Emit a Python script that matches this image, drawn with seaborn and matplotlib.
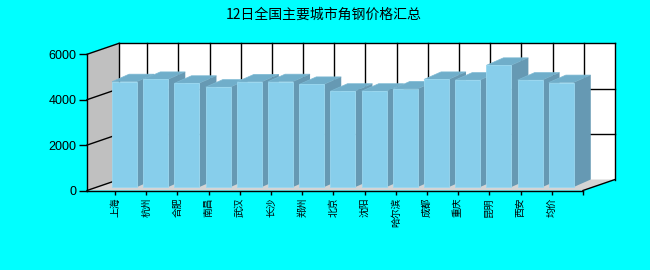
import numpy as np
import pandas as pd
import matplotlib
matplotlib.use("Agg")
import matplotlib.pyplot as plt
from matplotlib.patches import Polygon, Rectangle
import seaborn as sns

# ---- data ----
cities = ['上海', '杭州', '合肥', '南昌', '武汉', '长沙', '郑州', '北京', '沈阳',
          '哈尔滨', '成都', '重庆', '昆明', '西安', '均价']
prices = [4640, 4740, 4570, 4400, 4630, 4640, 4520, 4220, 4220,
          4320, 4740, 4710, 5360, 4710, 4600]
yticks = [0, 2000, 4000, 6000]
title = '12日全国主要城市角钢价格汇总'

plt.rcParams['font.family'] = ['Noto Sans CJK SC', 'DejaVu Sans']

W, H = 650, 270
fig = plt.figure(figsize=(W / 100, H / 100), dpi=100, facecolor='#00FFFF')

# pixel geometry
px_left, px_right, px_zero, px_top = 87, 615, 190.5, 43
px_per_cat = 31.13
px_per_unit_y = 136.2 / 6000.0
ax = fig.add_axes([px_left / W, (H - px_zero) / H,
                   (px_right - px_left) / W, (px_zero - px_top) / H])
ax.set_facecolor('none')

n_slots = len(cities) + 1
x0 = -28 / px_per_cat            # front-left edge of the floor
Dx = 32 / px_per_cat             # wall depth (x)
Dy = 11 / px_per_unit_y          # wall depth (y)
ymax = yticks[-1]

df = pd.DataFrame({'city': cities, 'price': prices})
sns.barplot(data=df, x='city', y='price', color='#87CEEB', saturation=1,
            width=0.8, ax=ax, linewidth=0.6, edgecolor='#9AD8F0')
bars = [q for q in ax.patches if isinstance(q, Rectangle)]

ax.set_xlim(x0, (n_slots - 1) + Dx)
ax.set_ylim(0, (px_zero - px_top) / px_per_unit_y)

# walls
kw = dict(closed=True, clip_on=False, linewidth=0)
ax.add_patch(Polygon([(x0 + Dx, Dy), (n_slots - 1 + Dx, Dy),
                      (n_slots - 1 + Dx, ymax + Dy), (x0 + Dx, ymax + Dy)],
                     facecolor='white', zorder=1, **kw))
ax.add_patch(Polygon([(x0, 0), (x0 + Dx, Dy), (x0 + Dx, ymax + Dy), (x0, ymax)],
                     facecolor='#C0C0C0', zorder=1, **kw))
ax.add_patch(Polygon([(x0, 0), (n_slots - 1, 0), (n_slots - 1 + Dx, Dy), (x0 + Dx, Dy)],
                     facecolor='#D4D4D4', zorder=1, **kw))

lk = dict(color='black', linewidth=1, zorder=2, clip_on=False)
for yv in yticks:
    ax.plot([x0, x0 + Dx], [yv, yv + Dy], **lk)
    if yv > 0:
        ax.plot([x0 + Dx, n_slots - 1 + Dx], [yv + Dy, yv + Dy], **lk)
for k in range(n_slots):
    ax.plot([k + Dx, k + Dx], [Dy, ymax + Dy], **lk)
ax.plot([x0 + Dx, x0 + Dx], [Dy, ymax + Dy], **lk)
ax.plot([x0, x0], [0, ymax], **lk)
ax.plot([x0, n_slots - 1], [0, 0], **lk)
ax.plot([n_slots - 1, n_slots - 1 + Dx], [0, Dy], **lk)

# 3D bars
bx = 9.5 / px_per_cat
by = 3.5 / px_per_unit_y
ddx = 17 / px_per_cat
ddy = 7.5 / px_per_unit_y
for i, p in enumerate(bars):
    xl = p.get_x() + bx
    w = p.get_width()
    h = p.get_height()
    p.set_x(xl)
    p.set_y(by)
    p.set_zorder(11 + 2 * i)
    xr = xl + w
    yb, yt = by, by + h
    ax.add_patch(Polygon([(xl, yt), (xr, yt), (xr + ddx, yt + ddy), (xl + ddx, yt + ddy)],
                         closed=True, facecolor='#70AECA', edgecolor='#7DBAD4',
                         linewidth=0.5, zorder=10 + 2 * i))
    ax.add_patch(Polygon([(xr, yb), (xr + ddx, yb + ddy), (xr + ddx, yt + ddy), (xr, yt)],
                         closed=True, facecolor='#6699B3', linewidth=0,
                         zorder=10 + 2 * i))

for s in ax.spines.values():
    s.set_visible(False)

ax.set_xlabel('')
ax.set_ylabel('')
ax.set_yticks(yticks)
ax.set_yticklabels([str(v) for v in yticks], family='Liberation Sans', fontsize=9,
                   color='black')
ax.tick_params(axis='y', length=6, width=1, pad=1.5, color='black')
ax.set_xticks(range(n_slots))
ax.set_xticklabels(cities + [''], rotation=90, fontsize=7,
                   family=['Noto Sans CJK SC', 'DejaVu Sans'], color='black')
ax.tick_params(axis='x', length=3, width=1, pad=2, color='black')

fig.text(324 / W, 1 - 15 / H, title, ha='center', va='center', fontsize=10,
         family=['Noto Sans CJK SC', 'DejaVu Sans'], color='black')

fig.savefig('out.png', dpi=100, facecolor=fig.get_facecolor())
